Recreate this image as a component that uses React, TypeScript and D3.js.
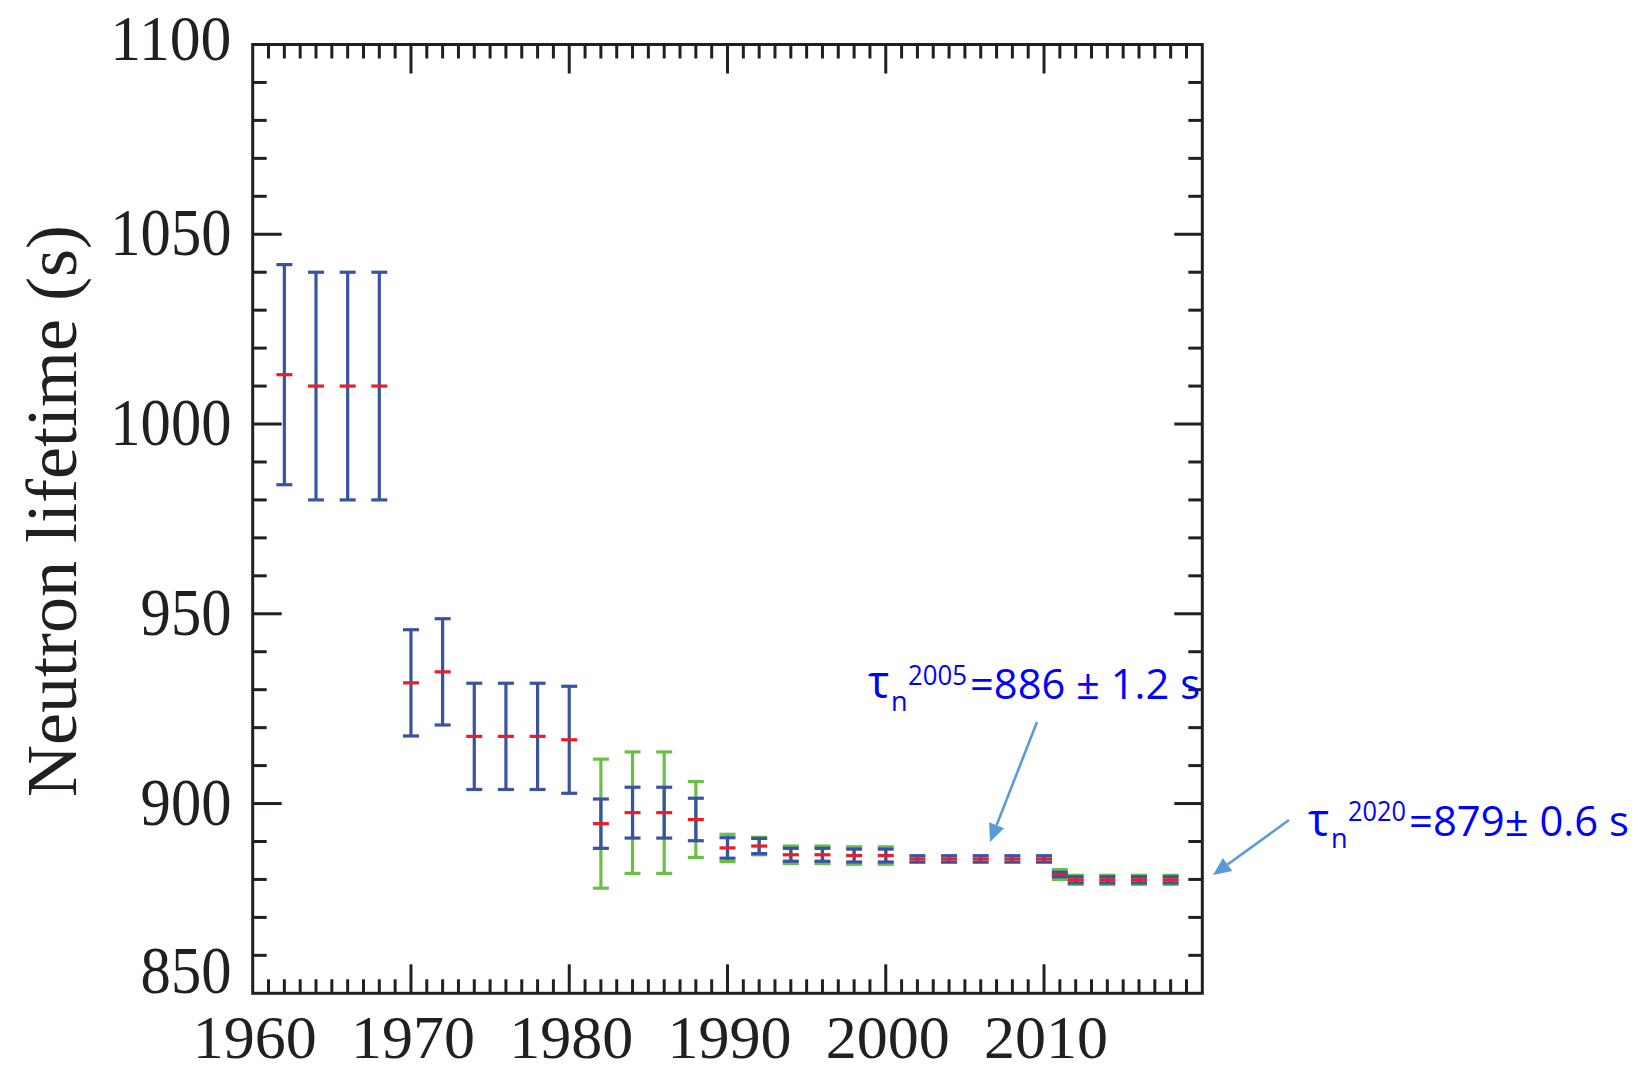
import React from "react";
import * as d3 from "d3";

const years = [1962, 1964, 1966, 1968, 1970, 1972, 1974, 1976, 1978, 1980, 1982, 1984, 1986, 1988, 1990, 1992, 1994, 1996, 1998, 2000, 2002, 2004, 2006, 2008, 2010, 2011, 2012, 2014, 2016, 2018];
const values = [1013, 1010, 1010, 1010, 931.8, 934.7, 917.7, 917.7, 917.7, 916.8, 894.7, 897.6, 897.6, 895.8, 888.3, 888.8, 886.5, 886.5, 886.3, 886.3, 885.4, 885.4, 885.4, 885.4, 885.4, 881.3, 879.9, 879.9, 879.9, 879.9];
const blueErr = [29, 30, 30, 30, 14, 14, 14, 14, 14, 14.1, 6.5, 6.7, 6.7, 5.6, 2.7, 2.0, 1.7, 1.7, 1.7, 1.7, 0.85, 0.85, 0.85, 0.85, 0.85, 0.6, 0.8, 0.8, 0.8, 0.8];
const greenErr = [0, 0, 0, 0, 0, 0, 0, 0, 0, 0, 17, 16, 16, 10, 3.6, 2.3, 2.3, 2.3, 2.3, 2.3, 0, 0, 0, 0, 0, 1.3, 1.2, 1.2, 1.2, 1.2];

const xTickLabels = [1960, 1970, 1980, 1990, 2000, 2010];
const yTickLabels = [850, 900, 950, 1000, 1050, 1100];

const yTitle = "Neutron lifetime (s)";
const note2005 = { sub: "n", sup: "2005", rest: "=886 ± 1.2 s" };
const note2020 = { sub: "n", sup: "2020", rest: "=879± 0.6 s" };

const BLUE = "#3953a4";
const GREEN = "#6abf45";
const RED = "#ee1c24";
const AXIS = "#231f20";
const ARROW = "#5b9bd5";
const TEXTBLUE = "#0000ff";

export default function App() {
  const W = 1644, H = 1071;
  const L = 252.7, R = 1202.3, T = 44.5, B = 993.3;
  const x = d3.scaleLinear().domain([1960, 2020]).range([L, R]);
  const y = d3.scaleLinear().domain([850, 1100]).range([B, T]);

  const xMinor = d3.range(1961, 2020).filter((v) => v % 10 !== 0);
  const xMajor = d3.range(1970, 2020, 10);
  const yMinor = d3.range(860, 1100, 10).filter((v) => v % 50 !== 0);
  const yMajor = d3.range(900, 1100, 50);

  const capW = 16;
  const sw = 3.2;

  const errBar = (i: number, err: number, color: string, key: string) => {
    const cx = x(years[i]);
    const y1 = y(values[i] + err);
    const y2 = y(values[i] - err);
    return (
      <g key={key} stroke={color} strokeWidth={sw}>
        <line x1={cx} x2={cx} y1={y1} y2={y2} />
        <line x1={cx - capW / 2} x2={cx + capW / 2} y1={y1} y2={y1} />
        <line x1={cx - capW / 2} x2={cx + capW / 2} y1={y2} y2={y2} />
      </g>
    );
  };

  const arrow = (x1: number, y1: number, x2: number, y2: number, key: string) => {
    const ang = Math.atan2(y2 - y1, x2 - x1);
    const hl = 18, hw = 8;
    const bx = x2 - hl * Math.cos(ang), by = y2 - hl * Math.sin(ang);
    const px = -Math.sin(ang) * hw, py = Math.cos(ang) * hw;
    return (
      <g key={key}>
        <line x1={x1} y1={y1} x2={bx} y2={by} stroke={ARROW} strokeWidth={2.6} />
        <polygon points={`${x2},${y2} ${bx + px},${by + py} ${bx - px},${by - py}`} fill={ARROW} />
      </g>
    );
  };

  const serif = "'Liberation Serif', 'Times New Roman', serif";
  const sans = "'Open Sans', 'Noto Sans', sans-serif";

  return (
    <svg width={W} height={H} style={{ position: "absolute", left: 0, top: 0, background: "#fff" }}>
      <rect x={0} y={0} width={W} height={H} fill="#fff" />
      {/* data */}
      {years.map((_, i) => (greenErr[i] > 0 ? errBar(i, greenErr[i], GREEN, "g" + i) : null))}
      {years.map((_, i) => errBar(i, blueErr[i], BLUE, "b" + i))}
      {years.map((yr, i) => (
        <line key={"r" + i} x1={x(yr) - capW / 2} x2={x(yr) + capW / 2} y1={y(values[i])} y2={y(values[i])} stroke={RED} strokeWidth={3.2} />
      ))}

      {/* frame */}
      <rect x={L} y={T} width={R - L} height={B - T} fill="none" stroke={AXIS} strokeWidth={3} />
      <g stroke={AXIS} strokeWidth={3}>
        {xMinor.map((v) => (
          <g key={"xm" + v}>
            <line x1={x(v)} x2={x(v)} y1={B} y2={B - 14} />
            <line x1={x(v)} x2={x(v)} y1={T} y2={T + 14} />
          </g>
        ))}
        {xMajor.map((v) => (
          <g key={"xM" + v}>
            <line x1={x(v)} x2={x(v)} y1={B} y2={B - 29} />
            <line x1={x(v)} x2={x(v)} y1={T} y2={T + 29} />
          </g>
        ))}
        {yMinor.map((v) => (
          <g key={"ym" + v}>
            <line x1={L} x2={L + 14} y1={y(v)} y2={y(v)} />
            <line x1={R} x2={R - 14} y1={y(v)} y2={y(v)} />
          </g>
        ))}
        {yMajor.map((v) => (
          <g key={"yM" + v}>
            <line x1={L} x2={L + 29} y1={y(v)} y2={y(v)} />
            <line x1={R} x2={R - 28} y1={y(v)} y2={y(v)} />
          </g>
        ))}
      </g>

      {/* tick labels */}
      {xTickLabels.map((v) => {
        const s = String(v);
        return (
          <text key={"xl" + v} x={x(v) + 2} y={1058} textAnchor="middle" fontFamily={serif} fontSize={61}
            fill={AXIS} textLength={31 * s.length} lengthAdjust="spacingAndGlyphs">{s}</text>
        );
      })}
      {yTickLabels.map((v, i) => {
        const s = String(v);
        const last = i === yTickLabels.length - 1;
        const off = i === 0 ? 0 : last ? 15 : 21;
        const w = 30.3 * s.length;
        return (
          <text key={"yl" + v} x={231.5 - w} y={y(v) + off} fontFamily={serif} fontSize={last ? 64 : 67}
            fill={AXIS} textLength={w} lengthAdjust="spacingAndGlyphs">{s}</text>
        );
      })}
      <text transform="translate(75.5,511) rotate(-90)" textAnchor="middle" fontFamily={serif} fontSize={72} fill={AXIS}>
        {yTitle}
      </text>

      {/* annotations */}
      <text fontFamily={sans} fill={TEXTBLUE}>
        <tspan x={868} y={698} fontSize={45}>τ</tspan>
        <tspan x={891} y={711} fontSize={27}>{note2005.sub}</tspan>
        <tspan x={908} y={685} fontSize={28} textLength={59} lengthAdjust="spacingAndGlyphs">{note2005.sup}</tspan>
        <tspan x={970} y={699} fontSize={42} textLength={230} lengthAdjust="spacingAndGlyphs">{note2005.rest}</tspan>
      </text>
      <text fontFamily={sans} fill={TEXTBLUE}>
        <tspan x={1308} y={836} fontSize={45}>τ</tspan>
        <tspan x={1331} y={848} fontSize={27}>{note2020.sub}</tspan>
        <tspan x={1348} y={821} fontSize={28} textLength={58} lengthAdjust="spacingAndGlyphs">{note2020.sup}</tspan>
        <tspan x={1409} y={836} fontSize={42} textLength={220} lengthAdjust="spacingAndGlyphs">{note2020.rest}</tspan>
      </text>
      {arrow(1037, 722, 990, 842, "a1")}
      {arrow(1289, 820, 1213, 875, "a2")}
    </svg>
  );
}
